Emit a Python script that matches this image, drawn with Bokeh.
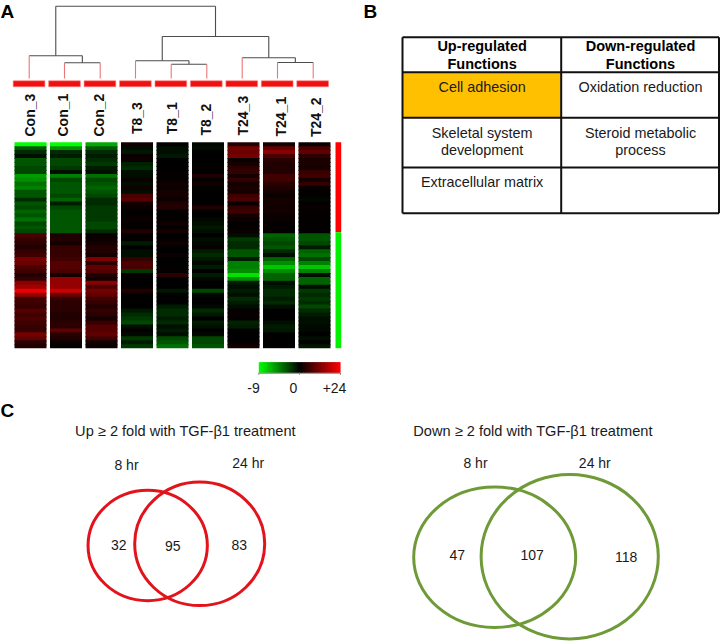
from math import pi
from bokeh.plotting import figure
from bokeh.embed import file_html
from bokeh.resources import INLINE
from bokeh.core.properties import value

# ---- data ----
samples = ["Con_3", "Con_1", "Con_2", "T8_3", "T8_1", "T8_2", "T24_3", "T24_1", "T24_2"]
scale_labels = ["-9", "0", "+24"]
scale_values = [-9, 0, 24]

con_3 = [-9, -3, -1.5, -0.5, -3, -3, -2.5, -2.5, -5.5, -5, -4, -4.5, -3, -3, -1.5, -3, -2.5, -3.5, -3, -4, -2.5, -3, -2.5,
         7, 5, 4, 3, 5, 6, 11, 10, 7, 6, 3, 5, 13, 15, 22, 14, 6, 6, 5, 8, 6, 7, 6, 5, 5, 11, 9, 4, 3]
con_1 = [-9, -5, -1.5, -1, -2.5, -2.5, -2, -0.5, -4.5, -2.5, -3, -3, -3, -2.5, -3.5, -1, -2.5, -3, -3, -3, -3, -3, -3,
         3, 3, 2, 5, 5, 5, 6, 8, 8, 7, 2, 14, 14, 14, 19, 10, 5, 4, 4, 4, 3, 3, 4, 4, 9, 4, 3, 1, 0.5]
con_2 = [-6, -3, -1.5, -1, -1.5, -2, -1, -0.5, -4, -2.5, -3, -3.5, -3, -2.5, -1.5, -1.5, -2, -2, -2, -2, -2.5, -2.5, -1.5,
         1, 1, 2, 3, 3, 2, 12, 4, 9, 8, 3, 1.5, 13, 7, 11, 9, 6, 5, 3, 5, 4, 2, 5, 8, 8, 9, 6, 1.5, 1]
t8_3 = [1.5, -0.3, -0.8, 1, 1, -1.2, -1.5, -0.5, -0.5, 1, -0.5, 1.5, -0.5, 7, 8, 2, 1, 0.3, 0.5, 1, 0.5, 0.5, 3,
        0.5, 0.5, -1, 0, -0.5, -0.5, 5, 7, 7, -2, 0.3, 0.3, 0, 0.3, 3, 0, 0, 0.3, 0, -0.8, -1.5, -2, -2.5, -0.5, 0.5, -0.3, -2, -1, -2]
t8_1 = [0, -0.5, -0.5, -0.8, 0, 0, 0, 0.5, 0.5, 0.5, 1.5, 1, 2, 2, 1, 3, 3, 0.5, 0.3, 0.5, 1.5, 0.5, 2,
        0, 0.5, 1.5, 0, 0, 1, 0, 0, 0.3, 0.5, 4, 0, 0, 0, -0.8, 0, 0, 0, -1, -1.5, -1.5, -1, -1.5, -0.5, -1, -0.5, -2.5, -3, -4]
t8_2 = [-0.3, -0.5, 0, 0, 0, 0, 0.3, 0, 3, 0.3, 1.5, 0.3, 0, 0, 0, 0.5, 3, 0, 0, -0.3, -0.5, -0.8, -0.5,
        0, -0.5, -0.3, 0.8, -1, -1.5, -0.8, -0.3, -1, 0, -1, -0.3, 0, 0, -2.5, -0.3, 0, 0, -0.3, -1.5, -0.8, 0, -1, -0.5, 0, -0.3, -2.5, -2.5, -3]
t24_3 = [3, 11, 10, 11, 1, 2, 4, 5, 1.5, 5, 2, 2.5, 2, 6, 7, 0.8, 5, 6, 2, 1, 0.5, 0.5, 1,
         -0.5, -2, -1.5, -1.5, -3, -3, -1, -4.5, -4.5, -5, -8, -5, -1, -0.5, -1, -0.5, -1.5, -1, -0.5, 0.5, 0.8, 0.5, -1.2, -1, 0.3, 0, 0, 0.3, 2]
t24_1 = [2, 9, 13, 7, 4, 3, 3, 3, 6, 6, 4, 3, 2, 1, 2, 2, 1.5, 2, 1, 1, 0.5, 0.5, 0.3,
         -3.5, -3, -2.5, -3, -1.5, -0.5, -3.5, -5, -7, -5, -3.5, -3.5, -0.5, -1, -1.5, -1.5, -1, -1.5, -0.5, 0, 0, 0, -0.5, -1, -0.8, 0, 0, 0, 0]
t24_2 = [0.8, 7, 9, 4, 2.5, 2.5, 2, 5, 6, 2, 5, 1, 0.3, 0.3, -0.3, 0.5, 0.8, 0.5, 0.5, 0.3, 0.3, 0.3, 0.2,
         -3, -3, -2.5, -1, -3.5, -4, -2.5, -4.5, -7, -4.5, -0.5, -3.5, -3.5, -0.5, -2, -1.5, -2, -1.5, -2.5, -1.5, -1, -0.5, -0.5, -0.3, -0.3, 0, -0.5, 0, -0.8]
heat_columns = [con_3, con_1, con_2, t8_3, t8_1, t8_2, t24_3, t24_1, t24_2]
up_gene_rows = 23
down_gene_rows = 29

# dendrogram merge heights
h_con_pair, h_con = 15.7, 22.7
h_t8_pair, h_t8 = 14.3, 17.7
h_t24_pair, h_t24 = 16.0, 20.7
h_treated, h_root = 42.0, 72.3

table_headers = [["Up-regulated", "Functions"], ["Down-regulated", "Functions"]]
table_up = [["Cell adhesion"], ["Skeletal system", "development"], ["Extracellular matrix"]]
table_down = [["Oxidation reduction"], ["Steroid metabolic", "process"], []]

venn_up_title = "Up ≥ 2 fold with TGF-β1 treatment"
venn_down_title = "Down ≥ 2 fold with TGF-β1 treatment"
venn_times = ["8 hr", "24 hr"]
venn_up_counts = [32, 95, 83]
venn_down_counts = [47, 107, 118]

# ---- page ----
FONT = "Liberation Sans"
p = figure(width=720, height=641, x_range=(0, 720), y_range=(641, 0),
           output_backend="svg", toolbar_location=None, min_border=0,
           x_axis_location=None, y_axis_location=None, background_fill_color="white")
p.grid.visible = False
p.outline_line_color = None


def label(x, y, txt, size=14, bold=False, angle=0.0, align="center", color="#1a1a1a"):
    p.text([x], [y - (0.7 if angle == 0 else 0)], text=[txt], text_font=value(FONT), text_font_size=f"{size}px",
           text_font_style="bold" if bold else "normal", angle=angle,
           text_align=align, text_baseline="middle", text_color=color)


def heat_color(v):
    if v < 0:
        return "#%02x%02x%02x" % (0, round(255 * min(1, -v / 9)), 0)
    return "#%02x%02x%02x" % (round(255 * min(1, v / 24)), 0, 0)


# panel letters
label(0, 12, "A", 19, True, align="left", color="black")
label(363, 12, "B", 19, True, align="left", color="black")
label(0, 411, "C", 19, True, align="left", color="black")

# ---- panel A: heat map ----
HX0, HPITCH, HW = 14.0, 35.5, 32.0
HY0, HY1 = 141.7, 347.7
nrows = up_gene_rows + down_gene_rows
rh = (HY1 - HY0) / nrows
l, r, t, b, c = [], [], [], [], []
for ci, col in enumerate(heat_columns):
    for ri, v in enumerate(col):
        l.append(HX0 + ci * HPITCH)
        r.append(HX0 + ci * HPITCH + HW)
        t.append(HY0 + ri * rh)
        # each row runs under the next one, so no seam shows between rows
        b.append(HY0 + (ri + 1) * rh + (1.0 if ri < nrows - 1 else 0.0))
        c.append(heat_color(v))
p.quad(left=l, right=r, top=t, bottom=b, fill_color=c, line_color=None)

# side bar for gene groups
split = HY0 + up_gene_rows * rh - 1.1
p.quad(left=[335, 335], right=[340.7, 340.7], top=[HY0, split], bottom=[split, HY1],
       fill_color=["#ff0000", "#00f000"], line_color=None)

# sample bars, labels
BX0, BPITCH, BW = 12.7, 35.45, 31.7
p.quad(left=[BX0 + i * BPITCH for i in range(9)], right=[BX0 + i * BPITCH + BW for i in range(9)],
       top=[80.3] * 9, bottom=[86.3] * 9, fill_color="#f01010", line_color="#fa8080", line_width=0.6)
label_x = [29.3, 62.7, 98.7, 136, 171.7, 205.7, 242.3, 280, 315]
label_base = [136, 136, 136, 133.5, 133.7, 135, 135, 136, 136.6]
for s, lx, ly in zip(samples, label_x, label_base):
    label(lx, ly, s, 14, True, pi / 2, "left", "#111111")

# dendrogram
LEAF_Y = 78.0
leaf_x = [28.7, 64.0, 99.7, 135.0, 170.7, 206.3, 241.7, 277.0, 312.7]
tree = (h_root,
        (h_con, 0, (h_con_pair, 1, 2)),
        (h_treated,
         (h_t8, 3, (h_t8_pair, 4, 5)),
         (h_t24, 6, (h_t24_pair, 7, 8))))
seg_x, seg_y, leaf_seg_x, leaf_seg_y = [], [], [], []


def walk(node):
    if isinstance(node, int):
        return leaf_x[node], 0.0
    h, a, c2 = node
    xa, ha = walk(a)
    xb, hb = walk(c2)
    ya = LEAF_Y - h
    seg_x.append([xa, xb]); seg_y.append([ya, ya])
    for xv, hv, child in ((xa, ha, a), (xb, hb, c2)):
        if isinstance(child, int):
            leaf_seg_x.append([xv, xv]); leaf_seg_y.append([ya, LEAF_Y])
        else:
            seg_x.append([xv, xv]); seg_y.append([ya, LEAF_Y - hv])
    return (xa + xb) / 2, h


walk(tree)
p.multi_line(seg_x, seg_y, line_color="#4d4d4d", line_width=1.1)
p.multi_line(leaf_seg_x, leaf_seg_y, line_color="#e87878", line_width=1.1)

# colour scale
CX0, CX1, CY0, CY1 = 258.3, 340.0, 361.7, 372.3
steps = 60
mid = (CX0 + CX1) / 2
cl, cr, cc = [], [], []
for i in range(steps):
    f = (i + 0.5) / steps
    v = scale_values[0] * (1 - 2 * f) if f < 0.5 else scale_values[2] * (2 * f - 1)
    cl.append(CX0 + i * (CX1 - CX0) / steps)
    cr.append(CX0 + (i + 1) * (CX1 - CX0) / steps + (1.0 if i < steps - 1 else 0.0))
    cc.append(heat_color(v))
p.quad(left=cl, right=cr, top=[CY0] * steps, bottom=[CY1] * steps, fill_color=cc, line_color=None)
tick_x = [CX0, mid, CX1]
p.segment(tick_x, [CY1] * 3, tick_x, [CY1 + 2] * 3, line_color="#888888", line_width=1)
p.segment([CX0], [CY1 + 0.5], [CX1], [CY1 + 0.5], line_color="#888888", line_width=1)
for txt, x in zip(scale_labels, [253, 293, 334]):
    label(x, 387.7, txt, 14)

# ---- panel B: table ----
TX = [402.0, 560.7, 718.5]
TY = [36.7, 71.7, 117.3, 167.0, 212.7]
p.quad(left=[TX[0]], right=[TX[1]], top=[TY[1]], bottom=[TY[2]], fill_color="#ffc000", line_color=None)
p.segment([TX[0]] * 5, TY, [TX[2]] * 5, TY, line_color="#111111", line_width=2)
p.segment(TX, [TY[0]] * 3, TX, [TY[-1]] * 3, line_color="#111111", line_width=2)
col_centres = [481.6, 640.0]
for cx, lines in zip(col_centres, table_headers):
    for yy, txt in zip([46, 63.7], lines):
        label(cx, yy, txt, 14.5, True, color="black")
row_line_y = [[87], [132.7, 150], [182]]
for cx, column in zip(col_centres, [table_up, table_down]):
    for ys, lines in zip(row_line_y, column):
        for yy, txt in zip(ys, lines):
            label(cx, yy, txt, 14.4)

# ---- panel C: Venn diagrams ----
RED, GREEN = "#e3131b", "#6f9a38"
p.ellipse([147.2, 199.2], [545, 543.3], width=[119.3, 130], height=[110.4, 123.6],
          fill_color=None, line_color=RED, line_width=3)
p.ellipse([494.2, 569.2], [556.7, 556.2], width=[162, 177.2], height=[140.4, 164.6],
          fill_color=None, line_color=GREEN, line_width=3)
label(185, 430.7, venn_up_title, 14.6)
label(532.5, 430.7, venn_down_title, 14.6)
for txt, x, y in zip(venn_times, [126, 247.7], [465, 463.3]):
    label(x, y, txt, 14)
for txt, x in zip(venn_times, [475, 594.3]):
    label(x, 463.3, txt, 14)
for n, x, y in zip(venn_up_counts, [118.3, 172.3, 238.7], [545, 545.7, 544.7]):
    label(x, y, str(n), 14)
for n, x, y in zip(venn_down_counts, [456.7, 531.7, 625.7], [555, 555, 557]):
    label(x, y, str(n), 14)

open("out.html", "w").write(file_html(p, INLINE))
